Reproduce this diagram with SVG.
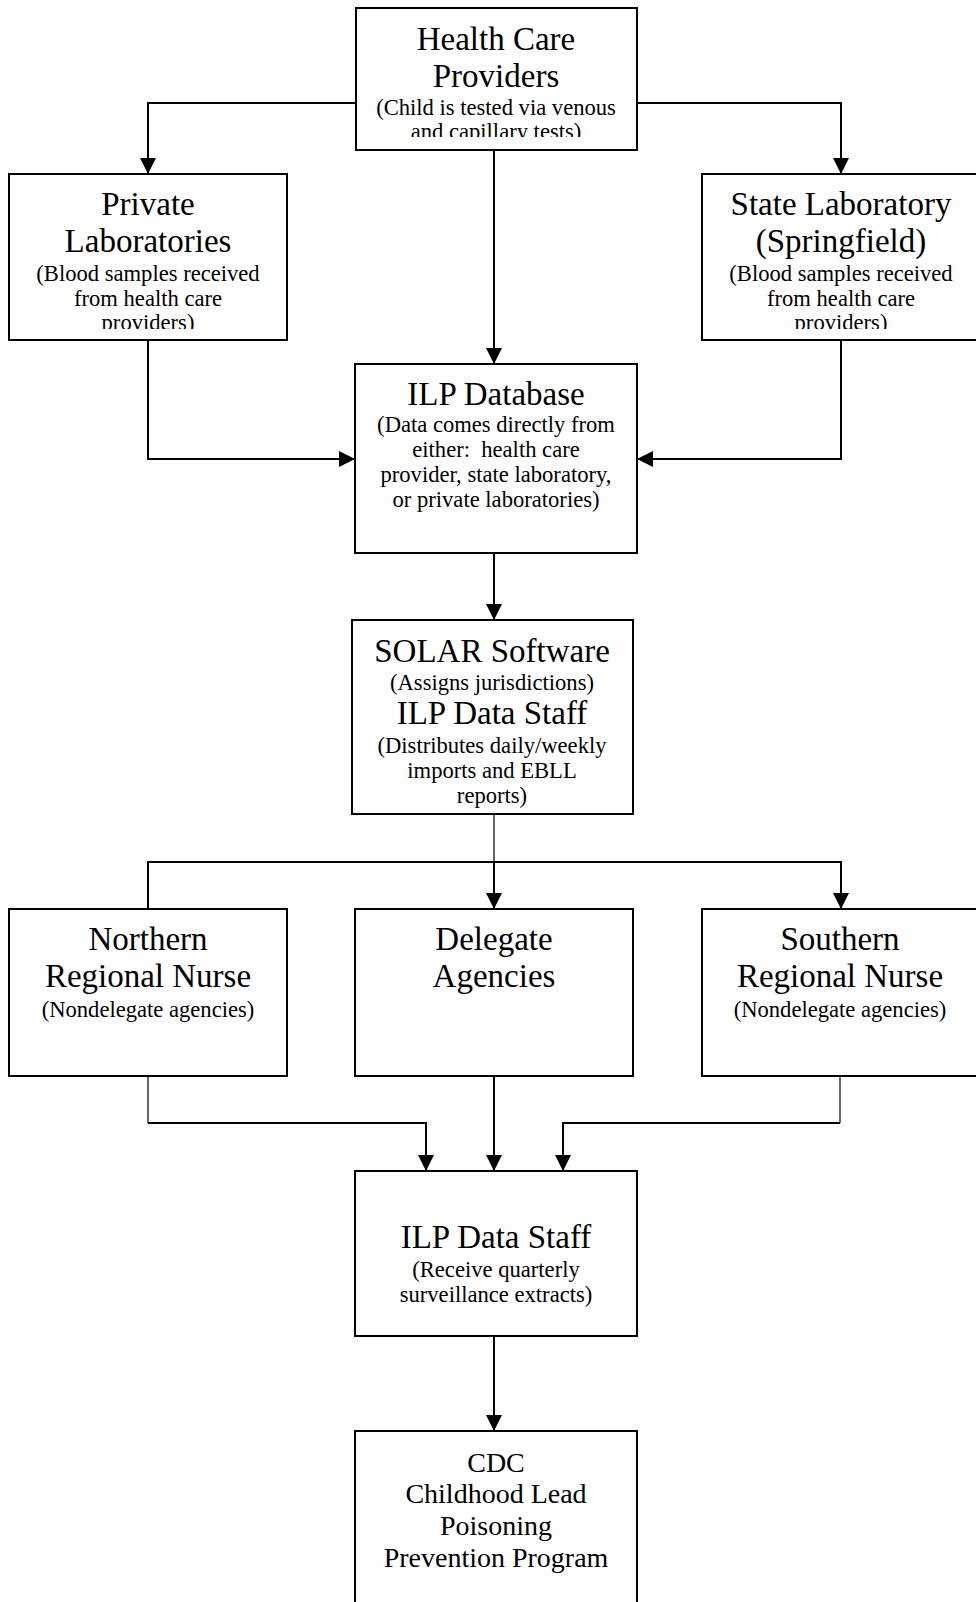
<svg xmlns="http://www.w3.org/2000/svg" width="976" height="1602" viewBox="0 0 976 1602">
  <style>
    .box { fill: #ffffff; stroke: #000000; stroke-width: 2; }
    .wire { fill: none; stroke: #000000; stroke-width: 2; }
    .thin { fill: none; stroke: #000000; stroke-width: 1.2; }
    text { font-family: "Liberation Serif", "Times New Roman", serif; fill: #000000; text-anchor: middle; }
    .t { font-size: 33px; }
    .s { font-size: 22.6px; }
    .ct { font-size: 28px; }
    .cs { font-size: 28px; }
  </style>
  <defs>
    <marker id="arrow" markerUnits="userSpaceOnUse" markerWidth="16" markerHeight="16" viewBox="0 0 16 16" refX="16" refY="8" orient="auto">
      <path d="M0,0 L16,8 L0,16 Z" fill="#000000"/>
    </marker>
    <clipPath id="clipHcp"><rect x="356" y="8" width="281" height="129"/></clipPath>
    <clipPath id="clipPriv"><rect x="9" y="174" width="278" height="155"/></clipPath>
    <clipPath id="clipState"><rect x="702" y="174" width="280" height="155"/></clipPath>
  </defs>

  <rect width="976" height="1602" fill="#ffffff"/>

  <!-- connectors -->
  <g id="connectors">
    <path class="wire" d="M356,103 H148 V174" marker-end="url(#arrow)"/>
    <path class="wire" d="M637,103 H841 V174" marker-end="url(#arrow)"/>
    <path class="wire" d="M494,150 V364" marker-end="url(#arrow)"/>
    <path class="wire" d="M148,340 V459 H355" marker-end="url(#arrow)"/>
    <path class="wire" d="M841,340 V459 H637" marker-end="url(#arrow)"/>
    <path class="wire" d="M494,553 V620" marker-end="url(#arrow)"/>
    <path class="thin" d="M494,814 V862"/>
    <path class="wire" d="M148,909 V862 H841 V909" marker-end="url(#arrow)"/>
    <path class="wire" d="M494,862 V909" marker-end="url(#arrow)"/>
    <path class="thin" d="M148,1076 V1123"/>
    <path class="wire" d="M148,1123 H426 V1171" marker-end="url(#arrow)"/>
    <path class="wire" d="M494,1076 V1171" marker-end="url(#arrow)"/>
    <path class="thin" d="M840,1076 V1123"/>
    <path class="wire" d="M840,1123 H563 V1171" marker-end="url(#arrow)"/>
    <path class="wire" d="M494,1336 V1431" marker-end="url(#arrow)"/>
  </g>

  <!-- nodes -->
  <g id="health-care-providers">
    <rect class="box" x="356" y="8" width="281" height="142"/>
    <g clip-path="url(#clipHcp)">
      <text class="t" x="496" y="50">Health Care</text>
      <text class="t" x="496" y="87">Providers</text>
      <text class="s" x="496" y="115">(Child is tested via venous</text>
      <text class="s" x="496" y="139">and capillary tests)</text>
    </g>
  </g>

  <g id="private-laboratories">
    <rect class="box" x="9" y="174" width="278" height="166"/>
    <g clip-path="url(#clipPriv)">
      <text class="t" x="148" y="215">Private</text>
      <text class="t" x="148" y="252">Laboratories</text>
      <text class="s" x="148" y="281">(Blood samples received</text>
      <text class="s" x="148" y="306">from health care</text>
      <text class="s" x="148" y="330">providers)</text>
    </g>
  </g>

  <g id="state-laboratory">
    <rect class="box" x="702" y="174" width="280" height="166"/>
    <g clip-path="url(#clipState)">
      <text class="t" x="841" y="215">State Laboratory</text>
      <text class="t" x="841" y="252">(Springfield)</text>
      <text class="s" x="841" y="281">(Blood samples received</text>
      <text class="s" x="841" y="306">from health care</text>
      <text class="s" x="841" y="330">providers)</text>
    </g>
  </g>

  <g id="ilp-database">
    <rect class="box" x="355" y="364" width="282" height="189"/>
    <text class="t" x="496" y="405">ILP Database</text>
    <text class="s" x="496" y="432">(Data comes directly from</text>
    <text class="s" x="496" y="457" xml:space="preserve">either:  health care</text>
    <text class="s" x="496" y="482">provider, state laboratory,</text>
    <text class="s" x="496" y="507">or private laboratories)</text>
  </g>

  <g id="solar-software">
    <rect class="box" x="352" y="620" width="281" height="194"/>
    <text class="t" x="492" y="662">SOLAR Software</text>
    <text class="s" x="492" y="690">(Assigns jurisdictions)</text>
    <text class="t" x="492" y="724">ILP Data Staff</text>
    <text class="s" x="492" y="753">(Distributes daily/weekly</text>
    <text class="s" x="492" y="778">imports and EBLL</text>
    <text class="s" x="492" y="803">reports)</text>
  </g>

  <g id="northern-regional-nurse">
    <rect class="box" x="9" y="909" width="278" height="167"/>
    <text class="t" x="148" y="950">Northern</text>
    <text class="t" x="148" y="987">Regional Nurse</text>
    <text class="s" x="148" y="1017">(Nondelegate agencies)</text>
  </g>

  <g id="delegate-agencies">
    <rect class="box" x="355" y="909" width="278" height="167"/>
    <text class="t" x="494" y="950">Delegate</text>
    <text class="t" x="494" y="987">Agencies</text>
  </g>

  <g id="southern-regional-nurse">
    <rect class="box" x="702" y="909" width="280" height="167"/>
    <text class="t" x="840" y="950">Southern</text>
    <text class="t" x="840" y="987">Regional Nurse</text>
    <text class="s" x="840" y="1017">(Nondelegate agencies)</text>
  </g>

  <g id="ilp-data-staff">
    <rect class="box" x="355" y="1171" width="282" height="165"/>
    <text class="t" x="496" y="1248">ILP Data Staff</text>
    <text class="s" x="496" y="1277">(Receive quarterly</text>
    <text class="s" x="496" y="1302">surveillance extracts)</text>
  </g>

  <g id="cdc">
    <rect class="box" x="355" y="1431" width="282" height="180"/>
    <text class="ct" x="496" y="1472">CDC</text>
    <text class="cs" x="496" y="1503">Childhood Lead</text>
    <text class="cs" x="496" y="1535">Poisoning</text>
    <text class="cs" x="496" y="1567">Prevention Program</text>
  </g>
</svg>
